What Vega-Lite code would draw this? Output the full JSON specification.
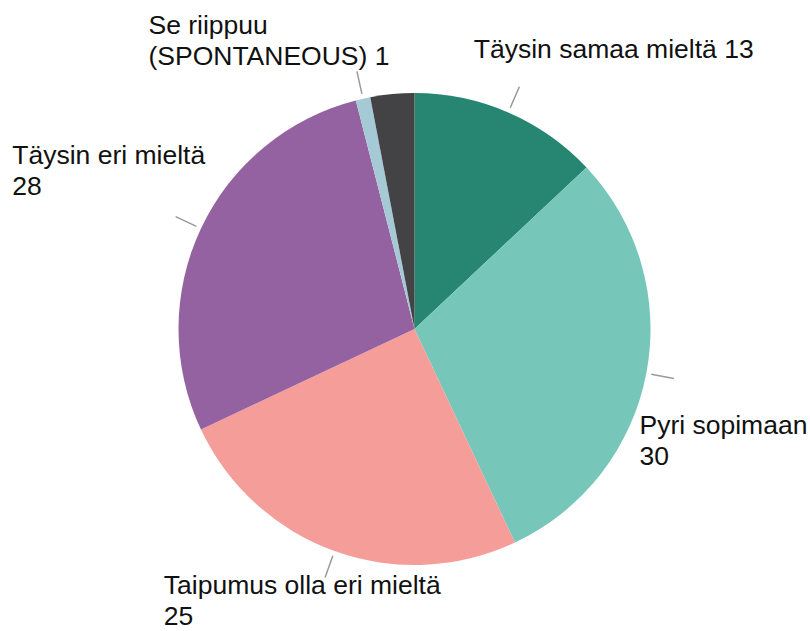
{
  "$schema": "https://vega.github.io/schema/vega-lite/v6.json",
  "width": 810,
  "height": 631,
  "autosize": {"type": "fit", "contains": "padding"},
  "padding": {"left": 0, "top": 14, "right": 14, "bottom": 0},
  "background": "white",
  "config": {"view": {"stroke": null}, "text": {"font": "Liberation Sans"}},
  "data": {
    "values": [
      {"k": "Täysin samaa mieltä", "v": 13, "o": 1, "lab": "Täysin samaa mieltä 13"},
      {"k": "Pyri sopimaan", "v": 30, "o": 2, "lab": "Pyri sopimaan|30"},
      {"k": "Taipumus olla eri mieltä", "v": 25, "o": 3, "lab": "Taipumus olla eri mieltä|25"},
      {"k": "Täysin eri mieltä", "v": 28, "o": 4, "lab": "Täysin eri mieltä|28"},
      {"k": "Se riippuu (SPONTANEOUS)", "v": 1, "o": 5, "lab": "Se riippuu|(SPONTANEOUS) 1"},
      {"k": "Ei osaa sanoa", "v": 3, "o": 6, "lab": ""}
    ]
  },
  "encoding": {
    "theta": {"field": "v", "type": "quantitative", "stack": true},
    "order": {"field": "o", "type": "quantitative"}
  },
  "layer": [
    {
      "mark": {"type": "arc", "radius": 236},
      "encoding": {
        "color": {
          "field": "k",
          "type": "nominal",
          "sort": null,
          "legend": null,
          "scale": {
            "domain": ["Täysin samaa mieltä", "Pyri sopimaan", "Taipumus olla eri mieltä", "Täysin eri mieltä", "Se riippuu (SPONTANEOUS)", "Ei osaa sanoa"],
            "range": ["#268672", "#76C7B9", "#F59D99", "#9562A1", "#A5CAD5", "#434345"]
          }
        }
      }
    },
    {
      "mark": {"type": "arc", "radius": 264, "radius2": 241, "padAngle": 3.1, "fill": "transparent", "stroke": "#9a9a9a", "strokeWidth": 1.5},
      "encoding": {
        "strokeOpacity": {"condition": {"test": "datum.o == 6", "value": 0}, "value": 1}
      }
    },
    {
      "mark": {"type": "text", "radius": 250, "align": "left", "baseline": "alphabetic", "dx": -40, "dy": -41.5, "fontSize": 26.5, "lineBreak": "|", "lineHeight": 31, "fill": "#111111"},
      "encoding": {"text": {"condition": {"test": "datum.o == 1", "field": "lab", "type": "nominal"}, "value": ""}}
    },
    {
      "mark": {"type": "text", "radius": 250, "align": "left", "baseline": "alphabetic", "dx": -20.6, "dy": 58, "fontSize": 26.5, "lineBreak": "|", "lineHeight": 31, "fill": "#111111"},
      "encoding": {"text": {"condition": {"test": "datum.o == 2", "field": "lab", "type": "nominal"}, "value": ""}}
    },
    {
      "mark": {"type": "text", "radius": 250, "align": "left", "baseline": "alphabetic", "dx": -166, "dy": 30, "fontSize": 26.5, "lineBreak": "|", "lineHeight": 31, "fill": "#111111"},
      "encoding": {"text": {"condition": {"test": "datum.o == 3", "field": "lab", "type": "nominal"}, "value": ""}}
    },
    {
      "mark": {"type": "text", "radius": 250, "align": "left", "baseline": "alphabetic", "dx": -176, "dy": -58.6, "fontSize": 26.5, "lineBreak": "|", "lineHeight": 31, "fill": "#111111"},
      "encoding": {"text": {"condition": {"test": "datum.o == 4", "field": "lab", "type": "nominal"}, "value": ""}}
    },
    {
      "mark": {"type": "text", "radius": 250, "align": "left", "baseline": "alphabetic", "dx": -211.5, "dy": -51, "fontSize": 26.5, "lineBreak": "|", "lineHeight": 31, "fill": "#111111"},
      "encoding": {"text": {"condition": {"test": "datum.o == 5", "field": "lab", "type": "nominal"}, "value": ""}}
    }
  ]
}
